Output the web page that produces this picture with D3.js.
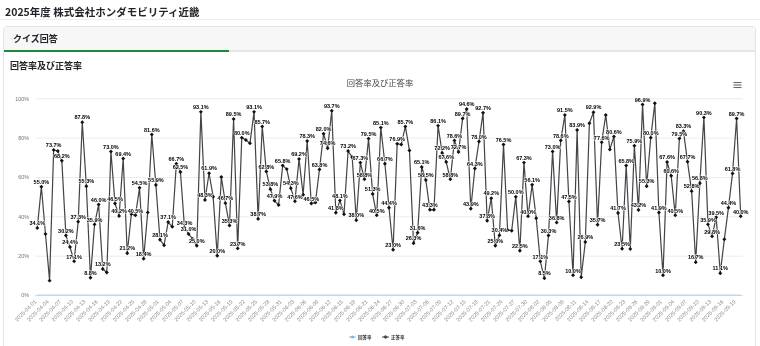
<!DOCTYPE html>
<html><head><meta charset="utf-8">
<script src="https://cdn.jsdelivr.net/npm/d3@7/dist/d3.min.js"></script>
<style>
body{margin:0;background:#fff;}
#c{will-change:transform;}
</style></head><body>
<svg id="c" width="760" height="346"></svg>
<script>
const categories = [
"2025-04-01","2025-04-02","2025-04-03","2025-04-04","2025-04-05","2025-04-06","2025-04-07","2025-04-08","2025-04-09","2025-04-10",
"2025-04-11","2025-04-12","2025-04-13","2025-04-14","2025-04-15","2025-04-16","2025-04-17","2025-04-18","2025-04-19","2025-04-20",
"2025-04-21","2025-04-22","2025-04-23","2025-04-24","2025-04-25","2025-04-26","2025-04-27","2025-04-28","2025-04-29","2025-04-30",
"2025-05-01","2025-05-02","2025-05-03","2025-05-04","2025-05-05","2025-05-06","2025-05-07","2025-05-08","2025-05-09","2025-05-10",
"2025-05-11","2025-05-12","2025-05-13","2025-05-14","2025-05-15","2025-05-16","2025-05-17","2025-05-18","2025-05-19","2025-05-20",
"2025-05-21","2025-05-22","2025-05-23","2025-05-24","2025-05-25","2025-05-26","2025-05-27","2025-05-28","2025-05-29","2025-05-30",
"2025-05-31","2025-06-01","2025-06-02","2025-06-03","2025-06-04","2025-06-05","2025-06-06","2025-06-07","2025-06-08","2025-06-09",
"2025-06-10","2025-06-11","2025-06-12","2025-06-13","2025-06-14","2025-06-15","2025-06-16","2025-06-17","2025-06-18","2025-06-19",
"2025-06-20","2025-06-21","2025-06-22","2025-06-23","2025-06-24","2025-06-25","2025-06-26","2025-06-27","2025-06-28","2025-06-29",
"2025-06-30","2025-07-01","2025-07-02","2025-07-03","2025-07-04","2025-07-05","2025-07-06","2025-07-07","2025-07-08","2025-07-09",
"2025-07-10","2025-07-11","2025-07-12","2025-07-13","2025-07-14","2025-07-15","2025-07-16","2025-07-17","2025-07-18","2025-07-19",
"2025-07-20","2025-07-21","2025-07-22","2025-07-23","2025-07-24","2025-07-25","2025-07-26","2025-07-27","2025-07-28","2025-07-29",
"2025-07-30","2025-07-31","2025-08-01","2025-08-02","2025-08-03","2025-08-04","2025-08-05","2025-08-06","2025-08-07","2025-08-08",
"2025-08-09","2025-08-10","2025-08-11","2025-08-12","2025-08-13","2025-08-14","2025-08-15","2025-08-16","2025-08-17","2025-08-18",
"2025-08-19","2025-08-20","2025-08-21","2025-08-22","2025-08-23","2025-08-24","2025-08-25","2025-08-26","2025-08-27","2025-08-28",
"2025-08-29","2025-08-30","2025-08-31","2025-09-01","2025-09-02","2025-09-03","2025-09-04","2025-09-05","2025-09-06","2025-09-07",
"2025-09-08","2025-09-09","2025-09-10","2025-09-11","2025-09-12","2025-09-13","2025-09-14","2025-09-15","2025-09-16","2025-09-17",
"2025-09-18","2025-09-19","2025-09-20"
];

// 正答率 (%)
const correctRate = [
34.1,55.0,31.0,7.3,73.7,73.2,68.2,30.2,24.4,17.1,
37.3,87.8,55.3,8.8,35.9,46.0,13.2,11.4,73.0,46.5,
40.2,69.4,21.2,41.2,40.5,54.5,18.4,42.0,81.6,55.9,
28.1,25.3,37.1,34.7,66.7,62.5,34.3,31.0,28.5,25.0,
93.1,48.3,61.9,50.0,20.0,60.0,46.7,35.3,89.5,23.7,
80.0,78.8,77.1,93.1,38.7,85.7,62.8,53.8,47.9,45.8,
65.8,64.0,54.3,47.6,69.2,51.0,78.3,46.5,47.0,63.8,
82.0,74.6,93.7,41.8,48.1,41.0,73.2,70.0,38.0,67.3,
58.8,79.5,51.3,40.5,85.1,66.7,44.4,23.0,76.9,76.5,
85.7,73.5,26.3,31.6,65.1,58.5,43.3,43.3,86.1,72.2,
67.6,58.8,78.6,72.7,89.7,94.6,43.9,64.3,78.0,92.7,
37.8,49.2,25.0,30.4,76.5,33.0,32.7,50.0,22.5,67.3,
40.0,56.1,39.0,17.1,8.5,30.3,73.0,36.8,78.6,91.5,
47.5,10.0,83.9,9.0,26.9,87.3,92.9,35.7,77.6,91.5,
74.0,80.6,41.7,23.5,65.8,23.4,75.9,43.2,96.9,55.3,
80.0,97.5,41.9,10.0,67.6,60.6,40.5,79.5,83.3,67.7,
52.8,16.7,56.8,90.3,35.9,29.8,39.5,11.1,28.3,44.4,
61.8,89.7,40.0
];

// 回答率 (%) — lies on the baseline in the reference
const answerRate = [
0,0,0,0,0,0,0,0,0,0, 0,0,0,0,0,0,0,0,0,0, 0,0,0,0,0,0,0,0,0,0,
0,0,0,0,0,0,0,0,0,0, 0,0,0,0,0,0,0,0,0,0, 0,0,0,0,0,0,0,0,0,0,
0,0,0,0,0,0,0,0,0,0, 0,0,0,0,0,0,0,0,0,0, 0,0,0,0,0,0,0,0,0,0,
0,0,0,0,0,0,0,0,0,0, 0,0,0,0,0,0,0,0,0,0, 0,0,0,0,0,0,0,0,0,0,
0,0,0,0,0,0,0,0,0,0, 0,0,0,0,0,0,0,0,0,0, 0,0,0,0,0,0,0,0,0,0,
0,0,0,0,0,0,0,0,0,0, 0,0,0,0,0,0,0,0,0,0, 0,0,0
];

// points whose data label is not shown (overlap-hidden in the reference)
const hiddenLabels = [2,3,5,17,23,27,31,33,38,43,45,51,52,59,61,65,68,75,77,89,91,97,115,116,122,133,135,139,140,145,151,168];

const yTicks = [0,20,40,60,80,100];
const seriesNames = ["回答率","正答率"];
const seriesColors = ["#7cb5ec","#434348"];

const pageTitle = "2025年度 株式会社ホンダモビリティ近畿";
const tabTitle = "クイズ回答";
const sectionTitle = "回答率及び正答率";
const chartTitle = "回答率及び正答率";

const JP = '"Noto Sans CJK JP","Noto Sans",sans-serif';
const LAT = '"Liberation Sans",Arial,sans-serif';

const svg = d3.select("#c");

// page header
svg.append("text").attr("x",5).attr("y",15.5).attr("font-family",JP).attr("font-weight","bold")
  .attr("font-size",10.5).attr("fill","#212529").text(pageTitle);
svg.append("line").attr("x1",0).attr("x2",760).attr("y1",19.5).attr("y2",19.5).attr("stroke","#eceff1");

// card
svg.append("rect").attr("x",3.5).attr("y",26.5).attr("width",752).attr("height",340).attr("rx",3)
  .attr("fill","#fff").attr("stroke","#e3e3e3");
svg.append("rect").attr("x",4).attr("y",27).attr("width",751).attr("height",24).attr("fill","#f7f7f7");
svg.append("line").attr("x1",4).attr("x2",755).attr("y1",51).attr("y2",51).attr("stroke","#dee2e6").attr("stroke-width",1.5);
svg.append("line").attr("x1",4).attr("x2",229).attr("y1",51).attr("y2",51).attr("stroke","#21873f").attr("stroke-width",2);
svg.append("text").attr("x",13).attr("y",42).attr("font-family",JP).attr("font-weight","bold")
  .attr("font-size",9).attr("fill","#212529").text(tabTitle);
svg.append("text").attr("x",10).attr("y",69).attr("font-family",JP).attr("font-weight","bold")
  .attr("font-size",9).attr("fill","#212529").text(sectionTitle);

// chart
const plot = {left:35.25, right:742.75, top:98.3, bottom:295};
const x = d3.scaleBand().domain(categories).range([plot.left, plot.right]).paddingInner(0).paddingOuter(0);
const cx = d => x(d) + x.bandwidth()/2;
const y = d3.scaleLinear().domain([0,100]).range([plot.bottom, plot.top]);

svg.append("text").attr("x",380).attr("y",86).attr("text-anchor","middle").attr("font-family",JP)
  .attr("font-size",8.3).attr("fill","#444").text(chartTitle);

// menu icon
[82.5,85,87.5].forEach(v=>{
  svg.append("line").attr("x1",733.5).attr("x2",741.5).attr("y1",v).attr("y2",v)
    .attr("stroke","#666").attr("stroke-width",1.1);
});

// grid
const gY = svg.append("g").attr("transform",`translate(${plot.left},0)`)
  .call(d3.axisLeft(y).tickValues(yTicks).tickSize(-(plot.right-plot.left)).tickFormat(d=>d+"%").tickPadding(6));
gY.select(".domain").remove();
gY.selectAll(".tick line").attr("stroke",d=>d===0?"#ccd6eb":"#ececec").attr("stroke-width",1);
gY.selectAll(".tick text").attr("font-family",LAT).attr("font-size",5.5).attr("fill","#777");

// x axis labels
const tickCats = categories.filter((d,i)=>i%3===0);
const gX = svg.append("g").attr("transform",`translate(0,${plot.bottom})`)
  .call(d3.axisBottom(x).tickValues(tickCats).tickSize(0).tickPadding(0));
gX.select(".domain").remove();
gX.selectAll(".tick text")
  .attr("font-family",LAT).attr("font-size",5.5).attr("fill","#888")
  .attr("text-anchor","end").attr("dy",0).attr("y",0)
  .attr("transform","translate(-0.5,7) rotate(-45)");

// clip
svg.append("clipPath").attr("id","pc").append("rect")
  .attr("x",plot.left).attr("y",plot.top-10).attr("width",plot.right-plot.left).attr("height",plot.bottom-plot.top+10);

const line = d3.line().x((d,i)=>cx(categories[i])).y(d=>y(d));

// 回答率
svg.append("path").datum(answerRate).attr("d",line).attr("fill","none")
  .attr("stroke",seriesColors[0]).attr("stroke-width",1).attr("stroke-opacity",0.6).attr("clip-path","url(#pc)");

// 正答率
svg.append("path").datum(correctRate).attr("d",line).attr("fill","none")
  .attr("stroke",seriesColors[1]).attr("stroke-width",1.2).attr("stroke-linejoin","round");

const diamond = d3.symbol().type(d3.symbolDiamond2).size(10);
svg.append("g").selectAll("path").data(correctRate).join("path")
  .attr("d",diamond)
  .attr("transform",(d,i)=>`translate(${cx(categories[i])},${y(d)})`)
  .attr("fill","#111");

// data labels
const hid = new Set(hiddenLabels);
svg.append("g").selectAll("text").data(correctRate.map((v,i)=>({v,i})).filter(o=>!hid.has(o.i))).join("text")
  .attr("x",o=>cx(categories[o.i])).attr("y",o=>y(o.v)-2.8)
  .attr("text-anchor","middle").attr("font-family",LAT).attr("font-weight","bold").attr("font-size",5.5)
  .attr("fill","#000").attr("stroke","#fff").attr("stroke-width",1).attr("paint-order","stroke")
  .attr("stroke-linejoin","round")
  .text(o=>o.v.toFixed(1)+"%");

// legend
const lg = svg.append("g").attr("font-family",JP).attr("font-size",4.5).attr("font-weight","bold").attr("fill","#333");
const legendItems = [{name:seriesNames[0],color:seriesColors[0],x:349},{name:seriesNames[1],color:seriesColors[1],x:382}];
legendItems.forEach((it,k)=>{
  lg.append("line").attr("x1",it.x).attr("x2",it.x+7).attr("y1",337).attr("y2",337).attr("stroke",it.color).attr("stroke-width",1);
  lg.append("path").attr("d",k===0?d3.symbol().type(d3.symbolCircle).size(8)():d3.symbol().type(d3.symbolDiamond2).size(10)())
    .attr("transform",`translate(${it.x+3.5},337)`).attr("fill",it.color);
  lg.append("text").attr("x",it.x+9).attr("y",338.8).text(it.name);
});
</script></body></html>
